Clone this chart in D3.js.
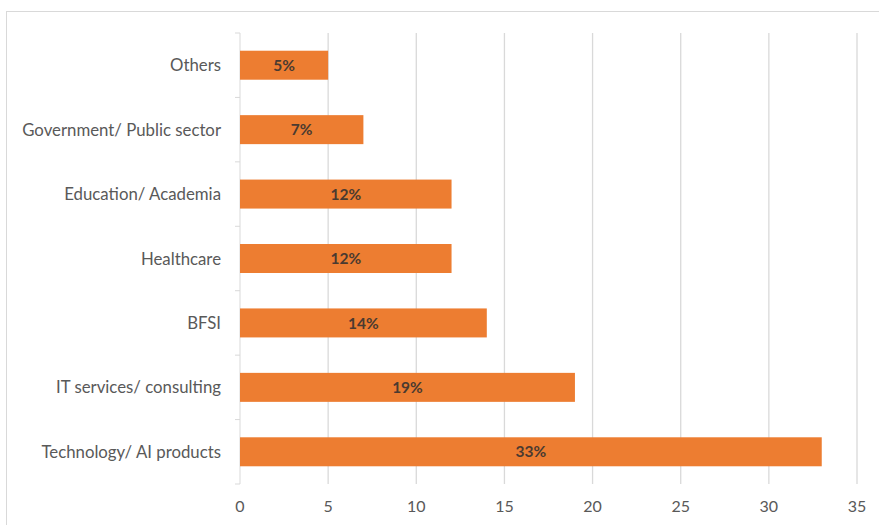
<!DOCTYPE html>
<html>
<head>
<meta charset="utf-8">
<script src="https://cdn.jsdelivr.net/npm/d3@7"></script>
<style>
  body { margin: 0; background: #fff; }
  svg { display: block; font-family: Lato, "Open Sans", sans-serif; }
</style>
</head>
<body>
<div class="chart"></div>
<script>
// Data.
const categories = ['Others', 'Government/ Public sector', 'Education/ Academia', 'Healthcare', 'BFSI', 'IT services/ consulting', 'Technology/ AI products'];
const values = [5, 7, 12, 12, 14, 19, 33];
const barLabels = ['5%', '7%', '12%', '12%', '14%', '19%', '33%'];
const xTicks = [0, 5, 10, 15, 20, 25, 30, 35];

const W = 879, H = 525;
const margin = { top: 33, right: 22, bottom: 41, left: 240 },
    width = W - margin.left - margin.right,
    height = H - margin.top - margin.bottom;

const svg = d3.select('.chart')
    .append('svg')
        .attr('width', W)
        .attr('height', H);

// Frame.
svg.append('rect')
    .attr('x', 6.5).attr('y', 11.5)
    .attr('width', W + 10).attr('height', H + 10)
    .attr('fill', 'none')
    .attr('stroke', '#d9d9d9');

const g = svg.append('g')
    .attr('transform', `translate(${margin.left},${margin.top})`);

const x = d3.scaleLinear().domain([0, 35]).range([0, width]);
const y = d3.scaleBand().domain(categories).range([0, height]).paddingInner(0.55).paddingOuter(0.275);

// Gridlines.
g.append('g')
    .selectAll('line')
    .data(xTicks.slice(1))
    .join('line')
        .attr('x1', d => x(d)).attr('x2', d => x(d))
        .attr('y1', 0).attr('y2', height)
        .attr('stroke', '#d9d9d9')
        .attr('stroke-width', 1.3);

// Vertical axis line with tick marks at band edges.
g.append('line')
    .attr('x1', 0).attr('x2', 0)
    .attr('y1', 0).attr('y2', height)
    .attr('stroke', '#d9d9d9');

const step = height / categories.length;
g.append('g')
    .selectAll('line')
    .data(d3.range(categories.length + 1))
    .join('line')
        .attr('x1', -5).attr('x2', 0)
        .attr('y1', d => d * step).attr('y2', d => d * step)
        .attr('stroke', '#d9d9d9');

// Bars.
g.append('g')
    .selectAll('rect')
    .data(values)
    .join('rect')
        .attr('x', 0)
        .attr('y', (d, i) => y(categories[i]))
        .attr('width', d => x(d))
        .attr('height', y.bandwidth())
        .attr('fill', '#ed7d31');

// Bar labels.
g.append('g')
    .selectAll('text')
    .data(values)
    .join('text')
        .attr('x', d => x(d) / 2)
        .attr('y', (d, i) => y(categories[i]) + y.bandwidth() / 2)
        .attr('dy', '0.36em')
        .attr('text-anchor', 'middle')
        .attr('font-size', 15.5)
        .attr('font-weight', 'bold')
        .attr('fill', '#4a3a30')
        .text((d, i) => barLabels[i]);

// Category labels.
g.append('g')
    .selectAll('text')
    .data(categories)
    .join('text')
        .attr('x', -19)
        .attr('y', d => y(d) + y.bandwidth() / 2)
        .attr('dy', '0.36em')
        .attr('text-anchor', 'end')
        .attr('font-size', 16.8)
        .attr('fill', '#595959')
        .text(d => d);

// X tick labels.
g.append('g')
    .selectAll('text')
    .data(xTicks)
    .join('text')
        .attr('x', d => x(d))
        .attr('y', height + 22)
        .attr('dy', '0.35em')
        .attr('text-anchor', 'middle')
        .attr('font-size', 16)
        .attr('fill', '#595959')
        .text(d => d);
</script>
</body>
</html>
